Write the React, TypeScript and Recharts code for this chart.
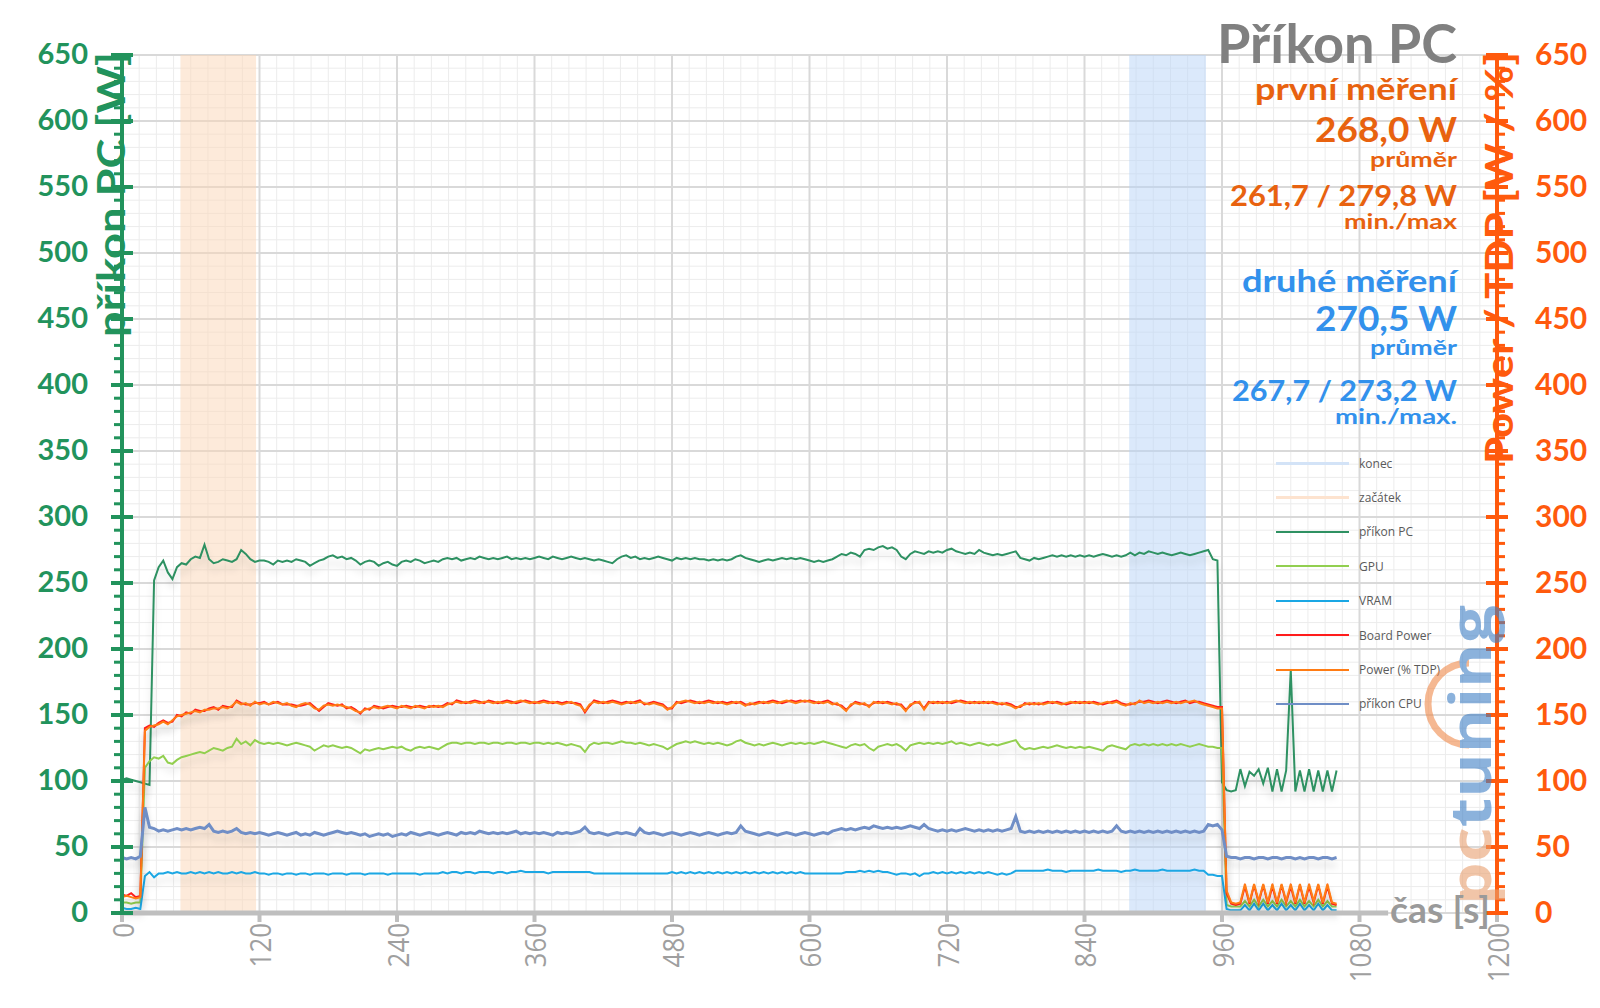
import React from 'react';
import {
  LineChart,
  Line,
  XAxis,
  YAxis,
  CartesianGrid,
  ReferenceArea,
  ReferenceLine,
  Legend,
} from 'recharts';

/* Příkon PC – log sampled every 4 s */
const STEP_S = 4;

const PRIKON_PC = [
  101, 102, 101, 100, 99, 98, 97, 252, 262, 267,
  258, 253, 262, 265, 264, 268, 270, 269, 279, 268,
  265, 266, 268, 267, 266, 268, 275, 272, 268, 266,
  267, 267, 266, 264, 267, 266, 267, 266, 268, 267,
  266, 263, 265, 267, 268, 270, 271, 269, 270, 268,
  269, 267, 264, 266, 267, 266, 263, 265, 266, 264,
  263, 266, 267, 266, 268, 267, 265, 266, 267, 266,
  268, 269, 268, 269, 267, 268, 269, 268, 270, 269,
  268, 269, 268, 269, 270, 268, 269, 268, 269, 268,
  269, 270, 269, 268, 270, 269, 268, 269, 270, 269,
  268, 269, 268, 267, 268, 267, 266, 265, 268, 270,
  271, 269, 270, 268, 269, 268, 269, 270, 269, 268,
  267, 269, 268, 269, 268, 269, 268, 268, 267, 268,
  267, 268, 267, 268, 270, 271, 269, 268, 267, 266,
  267, 268, 267, 268, 269, 268, 269, 268, 269, 268,
  267, 266, 267, 266, 267, 268, 270, 272, 271, 273,
  272, 270, 275, 276, 275, 277, 278, 276, 277, 275,
  270, 268, 272, 274, 273, 272, 274, 273, 274, 273,
  275, 276, 274, 273, 272, 273, 272, 275, 273, 272,
  271, 272, 271, 272, 273, 274, 269, 268, 267, 269,
  268, 269, 270, 271, 270, 271, 270, 271, 270, 271,
  270, 271, 270, 271, 272, 271, 270, 271, 270, 271,
  273, 271, 273, 272, 274, 273, 272, 273, 272, 271,
  272, 273, 272, 271, 272, 273, 274, 275, 268, 267,
  99, 93, 92, 93, 109, 96, 107, 104, 109, 98,
  110, 92, 109, 92, 108, 184, 92, 108, 92, 109,
  92, 108, 92, 108, 92, 108,
];

const GPU = [
  8, 8, 7, 8, 8, 110, 115, 118, 117, 119,
  114, 113, 116, 118, 119, 120, 121, 122, 121, 123,
  125, 124, 123, 125, 126, 132, 128, 130, 127, 131,
  129, 128, 129, 128, 129, 128, 127, 128, 129, 128,
  127, 126, 123, 125, 127, 126, 127, 126, 125, 126,
  125, 123, 121, 124, 123, 124, 125, 124, 125, 126,
  125, 126, 124, 123, 125, 126, 125, 126, 125, 124,
  126, 128, 129, 129, 128, 129, 129, 128, 129, 129,
  128, 129, 129, 128, 129, 129, 128, 129, 129, 128,
  129, 129, 128, 129, 128, 129, 128, 127, 128, 127,
  126, 122, 127, 129, 128, 129, 129, 128, 129, 130,
  129, 129, 128, 129, 128, 127, 128, 127, 126, 124,
  126, 128, 129, 130, 129, 130, 129, 128, 129, 128,
  129, 128, 127, 128, 130, 131, 129, 128, 127, 128,
  127, 128, 129, 128, 127, 128, 129, 128, 129, 128,
  129, 128, 129, 130, 129, 128, 127, 126, 125, 127,
  128, 127, 128, 125, 123, 126, 127, 128, 127, 128,
  126, 123, 127, 128, 129, 128, 129, 128, 129, 128,
  129, 130, 128, 129, 128, 127, 128, 129, 128, 127,
  128, 127, 128, 129, 130, 131, 126, 124, 125, 124,
  125, 126, 125, 126, 127, 126, 125, 126, 125, 126,
  125, 126, 125, 124, 123, 126, 127, 126, 125, 124,
  127, 128, 127, 128, 127, 128, 127, 128, 127, 128,
  127, 128, 127, 126, 127, 128, 127, 126, 126, 125,
  125, 6, 5, 5, 5, 9, 5, 10, 5, 10,
  5, 9, 5, 10, 5, 9, 5, 10, 5, 9,
  5, 10, 5, 9, 5, 5,
];

const VRAM = [
  4, 3, 3, 4, 3, 28, 31, 27, 30, 30,
  31, 30, 31, 30, 30, 31, 30, 31, 30, 31,
  30, 31, 30, 30, 31, 30, 31, 30, 30, 31,
  30, 30, 29, 30, 30, 29, 30, 30, 29, 30,
  30, 29, 30, 30, 30, 29, 30, 30, 30, 29,
  30, 30, 30, 29, 30, 30, 30, 30, 29, 30,
  30, 30, 30, 30, 30, 29, 30, 30, 30, 30,
  31, 30, 31, 31, 30, 31, 31, 30, 31, 31,
  31, 30, 31, 31, 30, 31, 31, 32, 31, 31,
  31, 31, 31, 30, 31, 31, 31, 31, 31, 31,
  31, 31, 31, 30, 30, 30, 30, 30, 30, 30,
  30, 30, 30, 30, 30, 30, 30, 30, 30, 30,
  31, 30, 31, 30, 31, 30, 31, 30, 31, 30,
  31, 30, 31, 30, 31, 30, 31, 30, 31, 30,
  31, 30, 31, 30, 31, 30, 31, 30, 31, 30,
  30, 30, 30, 30, 30, 30, 30, 30, 31, 31,
  31, 32, 31, 32, 31, 32, 31, 31, 30, 29,
  30, 30, 29, 30, 28, 30, 30, 31, 30, 31,
  30, 31, 30, 31, 30, 31, 30, 31, 30, 31,
  30, 29, 30, 29, 30, 32, 32, 32, 32, 32,
  32, 32, 33, 32, 32, 32, 31, 32, 32, 32,
  32, 32, 32, 33, 32, 32, 32, 32, 31, 32,
  32, 33, 32, 32, 32, 32, 32, 33, 32, 32,
  32, 32, 32, 32, 33, 32, 32, 29, 29, 28,
  28, 3, 2, 2, 2, 6, 2, 7, 2, 7,
  2, 6, 2, 7, 2, 6, 2, 7, 2, 6,
  2, 7, 2, 6, 2, 2,
];

const BOARD_POWER = [
  14, 13, 15, 12, 13, 140, 142, 141, 144, 146,
  144, 145, 150, 149, 152, 151, 154, 153, 153, 155,
  156, 154, 157, 156, 156, 161, 159, 158, 158, 159,
  159, 160, 158, 159, 160, 158, 158, 158, 157, 157,
  158, 159, 156, 153, 156, 159, 158, 157, 158, 155,
  156, 154, 151, 155, 154, 157, 156, 155, 156, 157,
  156, 156, 157, 156, 156, 157, 156, 156, 157, 156,
  157, 159, 158, 161, 160, 159, 160, 161, 160, 159,
  161, 160, 159, 160, 161, 160, 159, 160, 161, 160,
  159, 160, 161, 160, 159, 160, 159, 160, 159, 159,
  158, 152, 157, 161, 160, 159, 160, 161, 160, 159,
  160, 159, 160, 161, 158, 159, 160, 159, 158, 155,
  155, 160, 159, 160, 161, 160, 159, 160, 161, 160,
  159, 160, 159, 160, 159, 160, 158, 158, 159, 160,
  159, 160, 161, 160, 159, 160, 161, 160, 161, 160,
  161, 160, 159, 160, 161, 159, 158, 157, 154, 157,
  160, 159, 158, 157, 159, 160, 159, 160, 159, 158,
  158, 154, 157, 160, 159, 155, 160, 159, 160, 159,
  160, 159, 160, 161, 160, 159, 160, 159, 160, 159,
  160, 159, 158, 159, 158, 156, 156, 159, 158, 159,
  158, 159, 160, 159, 160, 159, 158, 159, 160, 159,
  160, 159, 160, 159, 158, 159, 160, 161, 159, 158,
  158, 159, 160, 160, 161, 160, 159, 160, 161, 160,
  159, 160, 161, 159, 160, 160, 159, 158, 157, 156,
  156, 15, 7, 6, 7, 20, 7, 21, 8, 21,
  7, 20, 7, 21, 8, 20, 7, 21, 7, 20,
  8, 21, 7, 20, 7, 6,
];

const POWER_TDP = [
  12, 13, 12, 11, 12, 138, 141, 142, 143, 145,
  143, 146, 149, 150, 151, 152, 153, 152, 154, 154,
  155, 155, 156, 155, 157, 160, 158, 159, 157, 160,
  158, 159, 158, 160, 159, 158, 159, 157, 156, 158,
  159, 158, 155, 154, 157, 158, 157, 158, 157, 156,
  155, 153, 152, 154, 155, 156, 155, 156, 157, 156,
  155, 157, 156, 155, 157, 156, 155, 157, 156, 157,
  156, 158, 159, 160, 159, 160, 159, 160, 159, 160,
  160, 159, 160, 159, 160, 159, 160, 161, 160, 159,
  160, 159, 160, 159, 160, 159, 158, 159, 160, 158,
  157, 153, 158, 160, 159, 160, 159, 160, 159, 158,
  159, 160, 159, 160, 159, 158, 159, 158, 157, 154,
  156, 159, 160, 161, 160, 159, 160, 159, 160, 159,
  160, 159, 158, 159, 160, 159, 157, 159, 158, 159,
  160, 159, 160, 159, 160, 161, 160, 159, 160, 161,
  160, 159, 160, 159, 160, 158, 159, 156, 153, 158,
  159, 158, 159, 156, 160, 159, 160, 159, 158, 159,
  157, 153, 158, 159, 160, 154, 159, 160, 159, 160,
  159, 160, 161, 160, 159, 160, 159, 160, 159, 160,
  159, 158, 159, 158, 157, 155, 157, 158, 159, 158,
  159, 158, 159, 160, 159, 158, 159, 160, 159, 160,
  159, 160, 159, 158, 159, 160, 159, 160, 158, 157,
  159, 158, 161, 159, 160, 159, 160, 159, 160, 159,
  160, 159, 160, 160, 161, 159, 158, 157, 156, 155,
  155, 17, 8, 7, 8, 22, 8, 22, 9, 22,
  8, 22, 8, 22, 9, 22, 8, 22, 8, 22,
  9, 22, 8, 22, 8, 7,
];

const PRIKON_CPU = [
  42, 41, 42, 41, 43, 80, 65, 64, 62, 63,
  62, 63, 64, 63, 64, 63, 64, 65, 64, 67,
  62, 61, 62, 61, 62, 64, 61, 60, 61, 60,
  61, 60, 59, 60, 61, 60, 59, 60, 61, 59,
  60, 59, 61, 60, 59, 60, 61, 62, 61, 60,
  61, 60, 59, 60, 58, 59, 60, 59, 60, 58,
  59, 60, 59, 61, 60, 59, 60, 61, 60, 59,
  60, 61, 60, 59, 61, 60, 61, 60, 62, 61,
  60, 61, 60, 61, 60, 61, 62, 60, 61, 60,
  61, 60, 61, 60, 59, 61, 60, 61, 60, 61,
  62, 65, 61, 60, 61, 60, 59, 60, 61, 60,
  61, 60, 59, 64, 61, 60, 61, 60, 59, 60,
  61, 60, 59, 60, 61, 60, 59, 60, 61, 60,
  59, 60, 61, 60, 61, 66, 62, 61, 60, 59,
  60, 61, 60, 59, 60, 61, 60, 59, 60, 61,
  60, 59, 60, 61, 60, 62, 63, 64, 63, 64,
  63, 64, 65, 64, 66, 65, 64, 65, 64, 65,
  64, 65, 66, 65, 64, 67, 64, 63, 62, 63,
  62, 63, 62, 63, 64, 63, 62, 63, 62, 63,
  62, 63, 62, 63, 64, 73, 62, 61, 62, 61,
  62, 61, 62, 61, 62, 61, 62, 61, 62, 61,
  62, 61, 62, 61, 62, 61, 62, 66, 62, 61,
  62, 61, 62, 61, 62, 61, 62, 61, 62, 61,
  62, 61, 62, 61, 62, 61, 62, 67, 66, 67,
  63, 43, 42, 42, 41, 42, 42, 41, 42, 42,
  41, 42, 42, 41, 42, 42, 41, 42, 41, 42,
  42, 41, 42, 42, 41, 42,
];

const X_TICKS = [0, 120, 240, 360, 480, 600, 720, 840, 960, 1080, 1200];
const X_MINOR = Array.from({ length: 81 }, (_, i) => i * 15);
const Y_TICKS = Array.from({ length: 66 }, (_, i) => i * 10);
const Y_MAJOR = Y_TICKS.filter((v) => v % 50 === 0);

const ZACATEK = [51, 117];
const KONEC = [879, 946];

const GREEN = '#22935c';
const ORANGE = '#ff5a0d';
const GRAY_TEXT = '#9f9f9f';
const CALIBRI = "Lato, 'Open Sans', sans-serif";

const SERIES = [
  { key: 'pc', name: 'příkon PC', color: '#2e9162', width: 2, axis: 0 },
  { key: 'gpu', name: 'GPU', color: '#92cf50', width: 2, axis: 0 },
  { key: 'vram', name: 'VRAM', color: '#1aa7e4', width: 2, axis: 0 },
  { key: 'board', name: 'Board Power', color: '#ff1c1c', width: 2, axis: 'right' },
  { key: 'tdp', name: 'Power (% TDP)', color: '#ff7c14', width: 2, axis: 'right' },
  { key: 'cpu', name: 'příkon CPU', color: '#6f8ec6', width: 3, axis: 0 },
];

const LEGEND_ITEMS = [
  { name: 'konec', color: '#d3e3f7', width: 3 },
  { name: 'začátek', color: '#fde3cf', width: 3 },
  ...SERIES.map((s) => ({ name: s.name, color: s.color, width: 2 })),
];

const rows = PRIKON_PC.map((pc, i) => ({
  t: i * STEP_S,
  pc,
  gpu: GPU[i],
  vram: VRAM[i],
  board: BOARD_POWER[i],
  tdp: POWER_TDP[i],
  cpu: PRIKON_CPU[i],
}));

const LeftTick = ({ x, y, payload }: any) => {
  const v = payload.value;
  if (v % 50 !== 0) {
    return <line x1={x - 8} x2={x} y1={y} y2={y} stroke={GREEN} strokeWidth={3} />;
  }
  return (
    <g>
      <line x1={x - 11} x2={x + 11} y1={y} y2={y} stroke={GREEN} strokeWidth={4} />
      <text x={x - 34} y={y + 9} textAnchor="end" fill={GREEN} fontSize={29} fontWeight={700} fontFamily={CALIBRI}>
        {v}
      </text>
    </g>
  );
};

const RightTick = ({ x, y, payload }: any) => {
  const v = payload.value;
  if (v % 50 !== 0) {
    return <line x1={x} x2={x + 8} y1={y} y2={y} stroke={ORANGE} strokeWidth={3} />;
  }
  return (
    <g>
      <line x1={x - 11} x2={x + 11} y1={y} y2={y} stroke={ORANGE} strokeWidth={4} />
      <text x={x + 38} y={y + 10} textAnchor="start" fill={ORANGE} fontSize={30} fontWeight={700} fontFamily={CALIBRI}>
        {v}
      </text>
    </g>
  );
};

const TimeTick = ({ x, y, payload }: any) => {
  const label = String(payload.value);
  const ty = y + 10;
  return (
    <g>
      <line x1={x} x2={x} y1={y} y2={y + 9} stroke="#bfbfbf" strokeWidth={4} />
      <text
        x={x}
        y={ty}
        transform={`rotate(-90 ${x} ${ty})`}
        textAnchor="end"
        dominantBaseline="central"
        fill={GRAY_TEXT}
        fontSize={30}
        fontWeight={400}
        fontFamily="'Open Sans', sans-serif"
        textLength={label.length * 14.8}
        lengthAdjust="spacingAndGlyphs"
      >
        {label}
      </text>
    </g>
  );
};

const renderLegend = () => (
  <div style={{ fontFamily: "'Open Sans', sans-serif", fontSize: 12, color: '#5a5a5a' }}>
    {LEGEND_ITEMS.map((it) => (
      <div key={it.name} style={{ display: 'flex', alignItems: 'center', height: 34.4 }}>
        <div style={{ width: 73, height: it.width, background: it.color }} />
        <span style={{ marginLeft: 10 }}>{it.name}</span>
      </div>
    ))}
  </div>
);

const InfoText = ({ y, size, color, len, children }: any) => (
  <text
    x={1457}
    y={y}
    textAnchor="end"
    fill={color}
    fontSize={size}
    fontWeight={700}
    fontFamily={CALIBRI}
    textLength={len}
    lengthAdjust="spacingAndGlyphs"
  >
    {children}
  </text>
);

export default function App() {
  const first = '#e8620f';
  const second = '#3291ec';
  return (
    <div style={{ position: 'absolute', left: 0, top: 0, width: 1600, height: 1008, background: '#fff', overflow: 'hidden' }}>
      <style>{`.recharts-line-curve { filter: url(#lineShadow); }`}</style>
      <svg width={0} height={0} style={{ position: 'absolute' }}>
        <defs>
          <filter id="lineShadow" filterUnits="userSpaceOnUse" x="0" y="0" width="1600" height="1008">
            <feDropShadow dx="0" dy="7" stdDeviation="3.5" floodColor="#000" floodOpacity="0.14" />
          </filter>
        </defs>
      </svg>

      <LineChart width={1600} height={1008} data={rows} margin={{ top: 55, right: 0, bottom: 0, left: 0 }}>
        <CartesianGrid horizontalValues={Y_TICKS} verticalValues={X_MINOR} stroke="#ececec" strokeWidth={1} />
        <CartesianGrid horizontalValues={Y_MAJOR} verticalValues={X_TICKS} stroke="#d9d9d9" strokeWidth={2} />
        <XAxis
          dataKey="t"
          type="number"
          domain={[0, 1200]}
          ticks={X_TICKS}
          interval={0}
          axisLine={false}
          tickLine={false}
          tickSize={0}
          tickMargin={0}
          height={95}
          tick={<TimeTick />}
        />
        <YAxis
          domain={[0, 650]}
          ticks={Y_TICKS}
          interval={0}
          width={122}
          axisLine={{ stroke: GREEN, strokeWidth: 4 }}
          tickLine={false}
          tickSize={0}
          tickMargin={0}
          tick={<LeftTick />}
        />
        <YAxis
          yAxisId="right"
          orientation="right"
          domain={[0, 650]}
          ticks={Y_TICKS}
          interval={0}
          width={103}
          axisLine={{ stroke: ORANGE, strokeWidth: 4 }}
          tickLine={false}
          tickSize={0}
          tickMargin={0}
          tick={<RightTick />}
        />
        <ReferenceArea x1={ZACATEK[0]} x2={ZACATEK[1]} fill="#fcd5b5" fillOpacity={0.5} stroke="none" />
        <ReferenceArea x1={KONEC[0]} x2={KONEC[1]} fill="#b8d3f7" fillOpacity={0.5} stroke="none" />
        {SERIES.map((s) => (
          <Line
            key={s.key}
            yAxisId={s.axis}
            dataKey={s.key}
            name={s.name}
            type="linear"
            stroke={s.color}
            strokeWidth={s.width}
            dot={false}
            activeDot={false}
            isAnimationActive={false}
          />
        ))}
        <ReferenceLine
          segment={[{ x: 0, y: 0 }, { x: 1105, y: 0 }]}
          stroke="#bfbfbf"
          strokeWidth={5}
          ifOverflow="visible"
        />
        <Legend
          layout="vertical"
          align="center"
          verticalAlign="middle"
          content={renderLegend}
          wrapperStyle={{ position: 'absolute', left: 1276, top: 446, width: 200 }}
        />
      </LineChart>

      <svg width={1600} height={1008} style={{ position: 'absolute', left: 0, top: 0, pointerEvents: 'none' }}>
        {/* watermark */}
        <g opacity={0.6}>
          <path d="M 1469 663 A 41 41 0 0 0 1469 745" fill="none" stroke="#f08a4b" strokeWidth={7} />
          <text
            x={1468}
            y={905}
            transform="rotate(-90 1468 905)"
            fontSize={58}
            fontWeight={700}
            fontFamily="'Open Sans', sans-serif"
            dominantBaseline="central"
            textLength={300}
            lengthAdjust="spacingAndGlyphs"
          >
            <tspan fill="#e9a070">pc</tspan>
            <tspan fill="#3f7fc5">tuning</tspan>
          </text>
        </g>

        <text
          x={125}
          y={52}
          transform="rotate(-90 125 52)"
          textAnchor="end"
          fill={GREEN}
          fontSize={39}
          fontWeight={700}
          fontFamily={CALIBRI}
          textLength={285}
          lengthAdjust="spacingAndGlyphs"
        >
          příkon PC [W]
        </text>
        <text
          x={1513}
          y={52}
          transform="rotate(-90 1513 52)"
          textAnchor="end"
          fill={ORANGE}
          fontSize={39}
          fontWeight={700}
          fontFamily={CALIBRI}
          textLength={412}
          lengthAdjust="spacingAndGlyphs"
        >
          Power / TDP [W / %]
        </text>
        <text
          x={1390}
          y={923}
          fill="#9a9a9a"
          fontSize={36}
          fontWeight={700}
          fontFamily={CALIBRI}
          textLength={100}
          lengthAdjust="spacingAndGlyphs"
        >
          čas [s]
        </text>

        <InfoText y={63} size={53} color="#808080" len={240}>Příkon PC</InfoText>
        <InfoText y={100} size={31} color={first} len={202}>první měření</InfoText>
        <InfoText y={141.7} size={35} color={first} len={142}>268,0 W</InfoText>
        <InfoText y={167} size={21} color={first} len={87}>průměr</InfoText>
        <InfoText y={205.7} size={28} color={first} len={227}>261,7 / 279,8 W</InfoText>
        <InfoText y={228.5} size={21} color={first} len={113}>min./max</InfoText>
        <InfoText y={291.7} size={31} color={second} len={215}>druhé měření</InfoText>
        <InfoText y={330.7} size={35} color={second} len={142}>270,5 W</InfoText>
        <InfoText y={355} size={21} color={second} len={87}>průměr</InfoText>
        <InfoText y={400.7} size={28} color={second} len={225}>267,7 / 273,2 W</InfoText>
        <InfoText y={423.5} size={21} color={second} len={122}>min./max.</InfoText>
      </svg>
    </div>
  );
}
